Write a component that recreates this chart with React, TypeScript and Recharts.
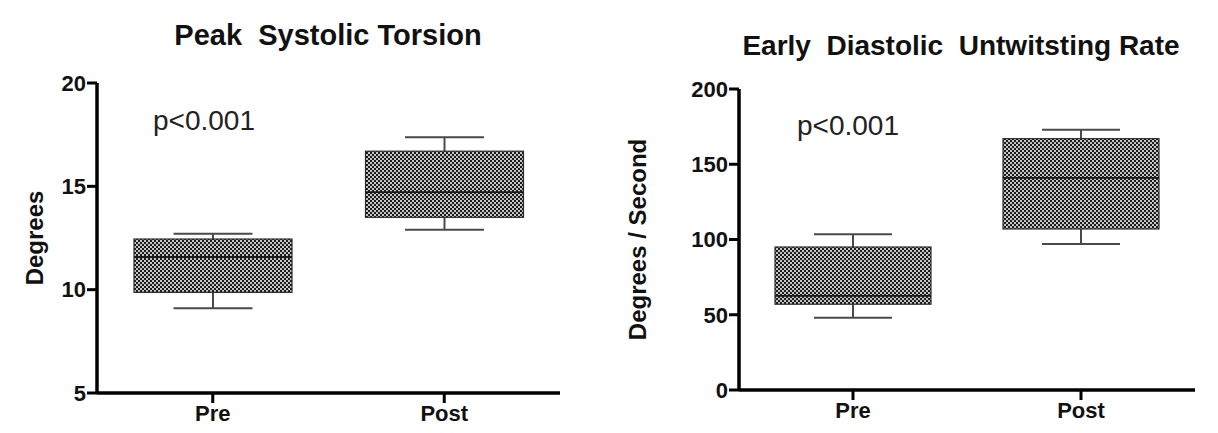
import React from 'react';
import { ComposedChart, Bar, XAxis, YAxis } from 'recharts';

const categories = ['Pre', 'Post'];

// Peak systolic torsion (degrees)
const torsionMin = [9.1, 12.9];
const torsionQ1 = [9.87, 13.5];
const torsionMedian = [11.58, 14.72];
const torsionQ3 = [12.45, 16.7];
const torsionMax = [12.71, 17.38];
const torsionTicks = [5, 10, 15, 20];

// Early diastolic untwisting rate (degrees / second)
const untwistMin = [48, 97];
const untwistQ1 = [57, 107];
const untwistMedian = [62.5, 141];
const untwistQ3 = [95, 167];
const untwistMax = [103.5, 173];
const untwistTicks = [0, 50, 100, 150, 200];

const FONT = '"Liberation Sans", Arial, Helvetica, sans-serif';

const buildRows = (mins: number[], q1s: number[], meds: number[], q3s: number[], maxs: number[]) =>
    categories.map((name, i) => ({
        name,
        box: [q1s[i], q3s[i]],
        min: mins[i],
        q1: q1s[i],
        median: meds[i],
        q3: q3s[i],
        max: maxs[i],
    }));

const torsionRows = buildRows(torsionMin, torsionQ1, torsionMedian, torsionQ3, torsionMax);
const untwistRows = buildRows(untwistMin, untwistQ1, untwistMedian, untwistQ3, untwistMax);

const makeBoxShape = (patternId: string) => (props: any) => {
    const { x, y, width, height, payload } = props;
    const top = Math.min(y, y + height);
    const h = Math.abs(height);
    const ppu = h / (payload.q3 - payload.q1);
    const yOf = (v: number) => top + (payload.q3 - v) * ppu;
    const cx = x + width / 2;
    const cap = width / 4;
    return (
        <g>
            <line x1={cx} x2={cx} y1={yOf(payload.max)} y2={top} stroke="#4a4a4a" strokeWidth={2} />
            <line x1={cx} x2={cx} y1={top + h} y2={yOf(payload.min)} stroke="#4a4a4a" strokeWidth={2} />
            <line x1={cx - cap} x2={cx + cap} y1={yOf(payload.max)} y2={yOf(payload.max)} stroke="#4a4a4a" strokeWidth={2} />
            <line x1={cx - cap} x2={cx + cap} y1={yOf(payload.min)} y2={yOf(payload.min)} stroke="#4a4a4a" strokeWidth={2} />
            <rect x={x} y={top} width={width} height={h} fill={`url(#${patternId})`} stroke="#2a2a2a" strokeWidth={1.2} />
            <line x1={x} x2={x + width} y1={yOf(payload.median)} y2={yOf(payload.median)} stroke="#1a1a1a" strokeWidth={1.8} />
        </g>
    );
};

const Dots = ({ id }: { id: string }) => (
    <defs>
        <pattern id={id} width={4} height={4} patternUnits="userSpaceOnUse">
            <rect width={4} height={4} fill="#1c1c1c" />
            <rect x={0} y={0} width={2} height={2} fill="#c4c4c4" />
            <rect x={2} y={2} width={2} height={2} fill="#c4c4c4" />
        </pattern>
    </defs>
);

const SideLabel = ({ text, cx }: { text: string; cx: number }) => (props: any) => {
    const vb = props.viewBox;
    const cy = vb.y + vb.height / 2;
    return (
        <text x={cx} y={cy} transform={`rotate(-90, ${cx}, ${cy})`} textAnchor="middle" dominantBaseline="central"
            fontFamily={FONT} fontWeight="bold" fontSize={24} fill="#111">
            {text}
        </text>
    );
};

const axisLine = { stroke: '#000', strokeWidth: 3.5 };
const tickLine = { stroke: '#000', strokeWidth: 3 };
const tickStyle = { fill: '#111', fontFamily: FONT, fontWeight: 'bold', fontSize: 22 };

const App: React.FC = () => {
    return (
        <div style={{ position: 'fixed', left: 0, top: 0, width: 1218, height: 433, background: '#fff' }}>
            <div style={{ position: 'absolute', left: 0, top: 0 }}>
                <ComposedChart width={600} height={433} data={torsionRows} margin={{ top: 83, right: 40, left: 0, bottom: 0 }}>
                    <Dots id="dotsA" />
                    <XAxis dataKey="name" height={40} stroke="#000" strokeWidth={3.5} axisLine={axisLine} tickLine={tickLine}
                        tickSize={10} tickMargin={2} tick={tickStyle} />
                    <YAxis width={97} domain={[5, 20]} ticks={torsionTicks} stroke="#000" strokeWidth={3.5} axisLine={axisLine} tickLine={tickLine}
                        tickSize={10} tickMargin={1} tick={tickStyle} interval={0} label={{ content: SideLabel({ text: 'Degrees', cx: 34 }) }} />
                    <Bar dataKey="box" barSize={158} shape={makeBoxShape('dotsA')} isAnimationActive={false} />
                </ComposedChart>
            </div>
            <div style={{ position: 'absolute', left: 600, top: 0 }}>
                <ComposedChart width={618} height={433} data={untwistRows} margin={{ top: 89, right: 23, left: 0, bottom: 0 }}>
                    <Dots id="dotsB" />
                    <XAxis dataKey="name" height={43} stroke="#000" strokeWidth={3.5} axisLine={axisLine} tickLine={tickLine}
                        tickSize={10} tickMargin={2} tick={tickStyle} />
                    <YAxis width={139} domain={[0, 200]} ticks={untwistTicks} stroke="#000" strokeWidth={3.5} axisLine={axisLine} tickLine={tickLine}
                        tickSize={10} tickMargin={1} tick={tickStyle} interval={0} label={{ content: SideLabel({ text: 'Degrees / Second', cx: 37 }) }} />
                    <Bar dataKey="box" barSize={156} shape={makeBoxShape('dotsB')} isAnimationActive={false} />
                </ComposedChart>
            </div>
            <svg width={1218} height={433} style={{ position: 'absolute', left: 0, top: 0, pointerEvents: 'none' }}>
                <text x={328} y={45} textAnchor="middle" fontFamily={FONT} fontWeight="bold" fontSize={29} fill="#111" style={{ whiteSpace: 'pre' }}>
                    {'Peak  Systolic Torsion'}
                </text>
                <text x={961} y={55} textAnchor="middle" fontFamily={FONT} fontWeight="bold" fontSize={28} fill="#111" style={{ whiteSpace: 'pre' }}>
                    {'Early  Diastolic  Untwitsting Rate'}
                </text>
                <text x={204} y={130} textAnchor="middle" fontFamily={FONT} fontSize={28} fill="#222">p&lt;0.001</text>
                <text x={848} y={135} textAnchor="middle" fontFamily={FONT} fontSize={28} fill="#222">p&lt;0.001</text>
            </svg>
        </div>
    );
};

export default App;
